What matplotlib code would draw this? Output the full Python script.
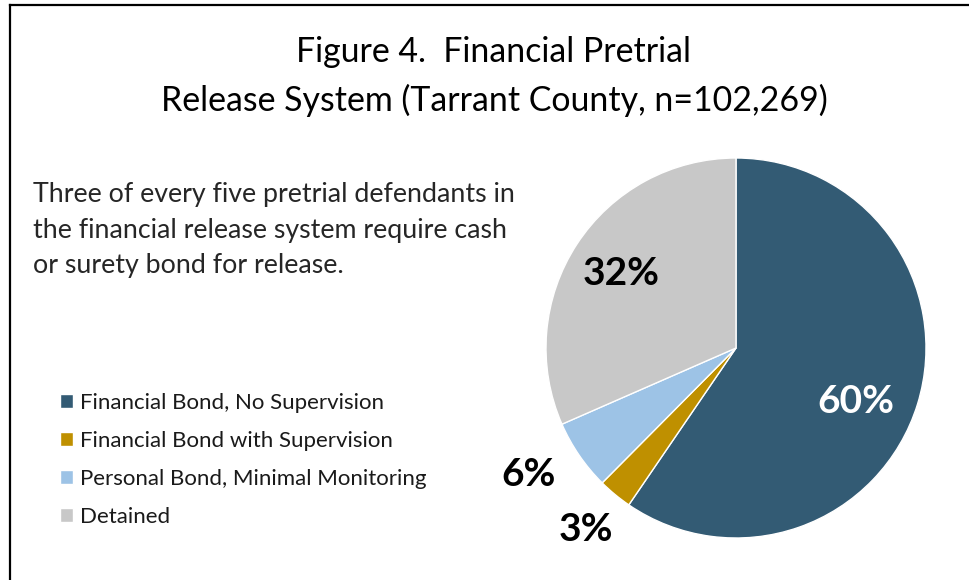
import numpy as np
import matplotlib.pyplot as plt
from matplotlib.lines import Line2D

plt.rcParams['font.family'] = ['Lato', 'DejaVu Sans']

# Data (percent of pretrial defendants)
categories = ['Financial Bond, No Supervision', 'Financial Bond with Supervision',
              'Personal Bond, Minimal Monitoring', 'Detained']
shares = [59.6, 2.9, 6.0, 31.6]
pct_labels = ['60%', '3%', '6%', '32%']
colors = ['#335b74', '#bf9000', '#9dc3e6', '#c8c8c8']
label_color = ['white', 'black', 'black', 'black']
label_dist = [0.69, 1.24, 1.28, 0.72]
label_turn = [-7, 0, -3, 0]  # nudge (degrees) from the wedge middle

W, H = 969, 580
fig = plt.figure(figsize=(W / 100, H / 100), dpi=100)

# frame (left and top edges visible)
fig.add_artist(Line2D([9.5 / W, 9.5 / W], [0, 1 - 5 / H], color='black', lw=1.6))
fig.add_artist(Line2D([9.5 / W, 1], [1 - 5 / H, 1 - 5 / H], color='black', lw=1.6))

# pie
cx, cy, r = 736, 348, 190
ax = fig.add_axes([(cx - r) / W, (H - cy - r) / H, 2 * r / W, 2 * r / H])
wedges, _ = ax.pie(shares, colors=colors, startangle=90, counterclock=False,
                   wedgeprops=dict(edgecolor='white', linewidth=1))
ax.set_xlim(-1, 1)
ax.set_ylim(-1, 1)
ax.set_aspect('equal')
ax.axis('off')

for w, lab, c, d, t in zip(wedges, pct_labels, label_color, label_dist, label_turn):
    ang = np.deg2rad((w.theta1 + w.theta2) / 2 + t)
    ax.text(d * np.cos(ang), d * np.sin(ang), lab, ha='center', va='center',
            fontsize=28, fontweight='bold', color=c)

# title
fig.text(494 / W, 1 - 52 / H, 'Figure 4.  Financial Pretrial', ha='center', va='center',
         fontsize=24.4, color='black')
fig.text(494 / W, 1 - 100 / H, 'Release System (Tarrant County, n=102,269)', ha='center',
         va='center', fontsize=24.4, color='black')

# note
note = ('Three of every five pretrial defendants in\n'
        'the financial release system require cash\n'
        'or surety bond for release.')
fig.text(33 / W, 1 - 182 / H, note, ha='left', va='top', fontsize=19.3,
         color='#262626', linespacing=1.53)

# legend
fig.legend(wedges, categories, loc='upper left', bbox_to_anchor=(40 / W, 1 - 373 / H),
           frameon=False, fontsize=16, handlelength=0.6, handleheight=0.6,
           handletextpad=0.3, labelspacing=0.81, labelcolor='#1a1a1a')

fig.savefig('out.png', dpi=100)
